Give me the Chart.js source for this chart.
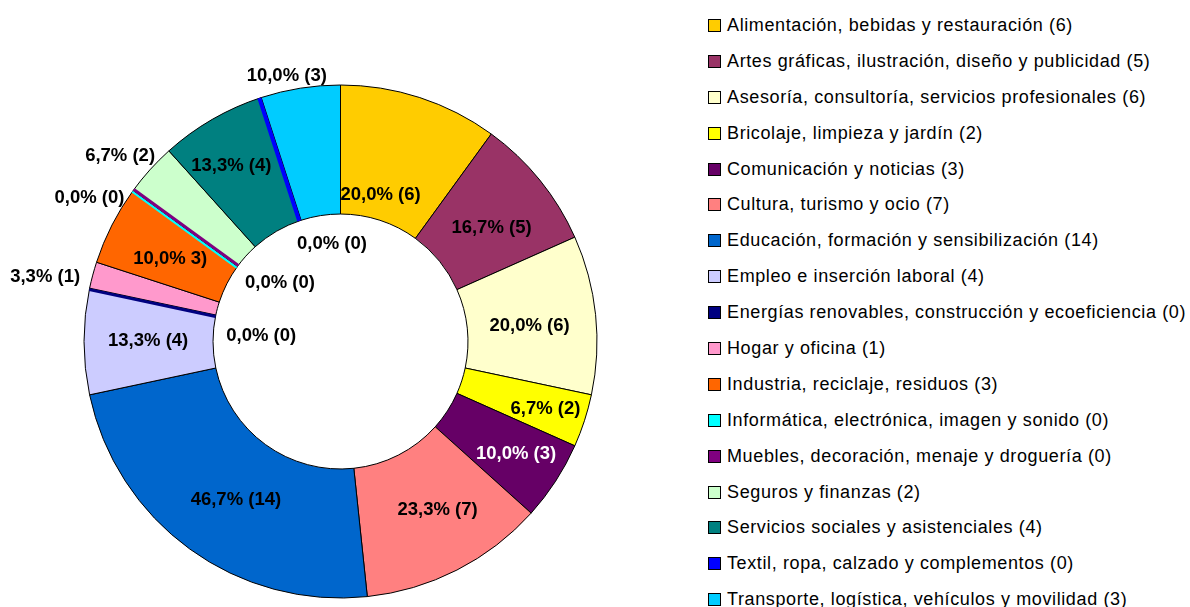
<!DOCTYPE html>
<html>
<head>
<meta charset="utf-8">
<script src="https://cdn.jsdelivr.net/npm/chart.js@4/dist/chart.umd.min.js"></script>
<style>
  html, body { margin: 0; padding: 0; background: #fff; }
  body { width: 1190px; height: 607px; overflow: hidden; position: relative; }
  #wrap { position: absolute; left: 0; top: 0; width: 681px; height: 607px; }
  #legend { position: absolute; left: 708px; top: 7.5px; font-family: "Liberation Sans", Arial, sans-serif; font-size: 18px; letter-spacing: 0.62px; color: #000; }
  .row { height: 35.9px; display: flex; align-items: center; white-space: nowrap; }
  .sw { width: 11px; height: 11px; border: 1px solid #000; margin-right: 6px; flex: none; }
</style>
</head>
<body>
<div id="wrap"><canvas id="c" width="681" height="607"></canvas></div>
<div id="legend"></div>
<script>
// ---- data ----
const categories = [
  "Alimentación, bebidas y restauración (6)",
  "Artes gráficas, ilustración, diseño y publicidad (5)",
  "Asesoría, consultoría, servicios profesionales (6)",
  "Bricolaje, limpieza y jardín (2)",
  "Comunicación y noticias (3)",
  "Cultura, turismo y ocio (7)",
  "Educación, formación y sensibilización (14)",
  "Empleo e inserción laboral (4)",
  "Energías renovables, construcción y ecoeficiencia (0)",
  "Hogar y oficina (1)",
  "Industria, reciclaje, residuos (3)",
  "Informática, electrónica, imagen y sonido (0)",
  "Muebles, decoración, menaje y droguería (0)",
  "Seguros y finanzas (2)",
  "Servicios sociales y asistenciales (4)",
  "Textil, ropa, calzado y complementos (0)",
  "Transporte, logística, vehículos y movilidad (3)"
];
const counts = [6, 5, 6, 2, 3, 7, 14, 4, 0, 1, 3, 0, 0, 2, 4, 0, 3];
const sliceLabels = [
  "20,0% (6)", "16,7% (5)", "20,0% (6)", "6,7% (2)", "10,0% (3)", "23,3% (7)",
  "46,7% (14)", "13,3% (4)", "0,0% (0)", "3,3% (1)", "10,0% 3)", "0,0% (0)",
  "0,0% (0)", "6,7% (2)", "13,3% (4)", "0,0% (0)", "10,0% (3)"
];

// ---- styles ----
const colors = [
  "#FFCC00", "#993366", "#FFFFCC", "#FFFF00", "#660066", "#FF8080",
  "#0066CC", "#CCCCFF", "#000080", "#FF99CC", "#FF6600", "#00FFFF",
  "#800080", "#CCFFCC", "#008080", "#0000FF", "#00CCFF"
];
const labelTextColors = counts.map((v, i) => i === 4 ? "#fff" : "#000");
// label placement: radius as fraction of outer radius, angle shift in degrees
const labelRadius = [0.595, 0.74, 0.74, 0.84, 0.81, 0.755, 0.737, 0.75, 0.31, 1.18, 0.74, 1.13, 0.33, 1.125, 0.81, 0.384, 1.06];
const labelShift  = [-2.8, 1.7, 1.1, 0, -0.7, -3.1, -2.4, 0.6, -7.6, -2.4, -0.8, -6, 8.3, -1.8, -1.7, 13, -2.4];
// zero-slice line styling: perpendicular offset (px, negative = counter-clockwise) and width
const zeroOffset = { 8: -1.5, 11: -1.2, 12: 1.5, 15: -2 };
const zeroWidth  = { 8: 3, 11: 2.2, 12: 3, 15: 4 };

const zeroLines = {
  id: 'zeroLines',
  afterDatasetsDraw(chart) {
    const ctx = chart.ctx;
    const meta = chart.getDatasetMeta(0);
    meta.data.forEach((el, i) => {
      if (counts[i] !== 0) return;
      const a = el.startAngle;
      const off = zeroOffset[i] || 0;
      const px = -Math.sin(a) * off, py = Math.cos(a) * off;
      ctx.save();
      ctx.strokeStyle = colors[i];
      ctx.lineWidth = zeroWidth[i] || 3;
      ctx.lineCap = 'butt';
      ctx.beginPath();
      ctx.moveTo(el.x + Math.cos(a) * el.innerRadius + px, el.y + Math.sin(a) * el.innerRadius + py);
      ctx.lineTo(el.x + Math.cos(a) * el.outerRadius + px, el.y + Math.sin(a) * el.outerRadius + py);
      ctx.stroke();
      ctx.restore();
    });
  }
};

const sliceText = {
  id: 'sliceText',
  afterDraw(chart) {
    const ctx = chart.ctx;
    const meta = chart.getDatasetMeta(0);
    ctx.save();
    ctx.font = 'bold 18.5px "Liberation Sans", Arial, sans-serif';
    ctx.textAlign = 'center';
    ctx.textBaseline = 'middle';
    meta.data.forEach((el, i) => {
      const mid = (el.startAngle + el.endAngle) / 2 + labelShift[i] * Math.PI / 180;
      const r = el.outerRadius * labelRadius[i];
      ctx.fillStyle = labelTextColors[i];
      ctx.fillText(sliceLabels[i], el.x + Math.cos(mid) * r, el.y + Math.sin(mid) * r + 1);
    });
    ctx.restore();
  }
};

new Chart(document.getElementById('c'), {
  type: 'doughnut',
  data: {
    labels: categories,
    datasets: [{
      data: counts,
      backgroundColor: colors,
      borderColor: '#000',
      borderWidth: 1
    }]
  },
  options: {
    responsive: false,
    animation: false,
    radius: 256.5,
    cutout: '49.7%',
    layout: { padding: { top: 76, left: 0, right: 0, bottom: 0 } },
    plugins: { legend: { display: false }, tooltip: { enabled: false } }
  },
  plugins: [zeroLines, sliceText]
});

// HTML legend built from the same arrays
const lg = document.getElementById('legend');
categories.forEach((name, i) => {
  const row = document.createElement('div');
  row.className = 'row';
  const sw = document.createElement('span');
  sw.className = 'sw';
  sw.style.background = colors[i];
  const tx = document.createElement('span');
  tx.textContent = name;
  row.appendChild(sw);
  row.appendChild(tx);
  lg.appendChild(row);
});
</script>
</body>
</html>
